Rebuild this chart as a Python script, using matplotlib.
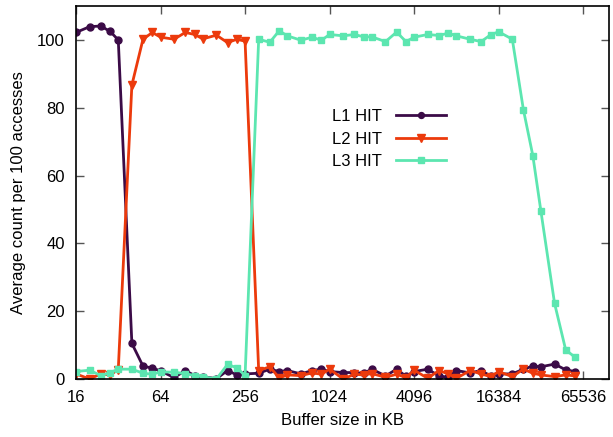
import matplotlib
matplotlib.use("Agg")
import matplotlib.pyplot as plt
from matplotlib.ticker import FixedLocator, NullLocator

plt.rcParams['font.family'] = ['Liberation Sans', 'DejaVu Sans']

# buffer sizes (KB): 16 .. 57344, 4 points per octave (x1, x1.25, x1.5, x1.75)
sizes = [16, 20, 24, 28, 32, 40, 48, 56, 64, 80, 96, 112,
         128, 160, 192, 224, 256, 320, 384, 448, 512, 640, 768, 896,
         1024, 1280, 1536, 1792, 2048, 2560, 3072, 3584, 4096, 5120, 6144, 7168,
         8192, 10240, 12288, 14336, 16384, 20480, 24576, 28672, 32768, 40960, 49152, 57344]

l1_hit = [102.2, 103.9, 104.1, 102.5, 100.0, 10.5, 3.8, 3.2, 2.4, 0.4, 2.5, 1.0,
          0.7, 0.1, 2.5, 1.2, 1.5, 1.7, 2.9, 2.2, 2.5, 1.5, 2.5, 2.9,
          2.2, 1.9, 1.9, 1.7, 2.9, 0.9, 2.9, 0.8, 2.2, 2.9, 0.9, 0.5,
          2.5, 1.8, 2.5, 0.9, 1.5, 1.5, 2.9, 3.8, 3.6, 4.4, 2.7, 2.2]

l2_hit = [1.5, 0.0, 1.5, 1.2, 2.8, 86.7, 100.2, 102.2, 100.8, 100.2, 102.2, 101.6,
          100.3, 101.4, 99.2, 100.2, 99.6, 2.5, 3.6, 0.3, 1.2, 1.0, 1.8, 1.4,
          2.9, 0.0, 1.4, 1.2, 1.6, 0.5, 1.4, 0.4, 2.6, 0.2, 2.5, 1.5,
          0.2, 2.5, 1.5, 0.7, 2.2, 0.7, 2.9, 1.7, 1.2, 0.7, 1.2, 0.9]

l3_hit = [2.2, 2.6, 1.0, 1.9, 2.9, 2.9, 1.7, 1.4, 2.1, 2.0, 1.6, 1.0,
          0.7, 0.0, 4.3, 3.3, 1.0, 100.2, 99.3, 102.7, 101.2, 99.9, 100.8, 99.9,
          101.6, 101.2, 101.6, 100.9, 100.9, 99.5, 102.3, 99.5, 100.8, 101.6, 101.3, 102.0,
          101.2, 100.2, 99.5, 101.5, 102.4, 100.2, 79.4, 65.9, 49.4, 22.3, 8.6, 6.4]

xticks = [16, 64, 256, 1024, 4096, 16384, 65536]
yticks = [0, 20, 40, 60, 80, 100]

fig = plt.figure(figsize=(6.13, 4.37), dpi=100)
ax = fig.add_axes([76 / 613, 1 - 379 / 437, (609 - 76) / 613, (379 - 6) / 437])

ax.plot(sizes, l1_hit, color='#3b0b47', lw=2.0, marker='o', ms=5.0, label='L1 HIT')
ax.plot(sizes, l2_hit, color='#ec3a0c', lw=2.0, marker='v', ms=6.0, label='L2 HIT')
ax.plot(sizes, l3_hit, color='#5ce6b0', lw=2.0, marker='s', ms=5.0, label='L3 HIT')

ax.set_xscale('log', base=2)
ax.set_xlim(16, 100000)
ax.set_ylim(0, 110)
ax.xaxis.set_major_locator(FixedLocator(xticks))
ax.xaxis.set_minor_locator(NullLocator())
ax.set_xticklabels([str(t) for t in xticks])
ax.set_yticks(yticks)
ax.tick_params(direction='in', top=True, right=True, length=6, width=1,
               labelsize=12, color='#555555', pad=8)
for s in ax.spines.values():
    s.set_linewidth(1.2)

ax.set_xlabel('Buffer size in KB', fontsize=12, labelpad=6)
ax.set_ylabel('Average count per 100 accesses', fontsize=12, labelpad=8)

leg = ax.legend(loc='center', bbox_to_anchor=(389 / 613, 1 - 139 / 437),
                bbox_transform=fig.transFigure, frameon=False, markerfirst=False,
                fontsize=12, handlelength=3.0, labelspacing=0.45, handletextpad=0.8,
                markerscale=0.85)

fig.savefig('out.png', dpi=100)
